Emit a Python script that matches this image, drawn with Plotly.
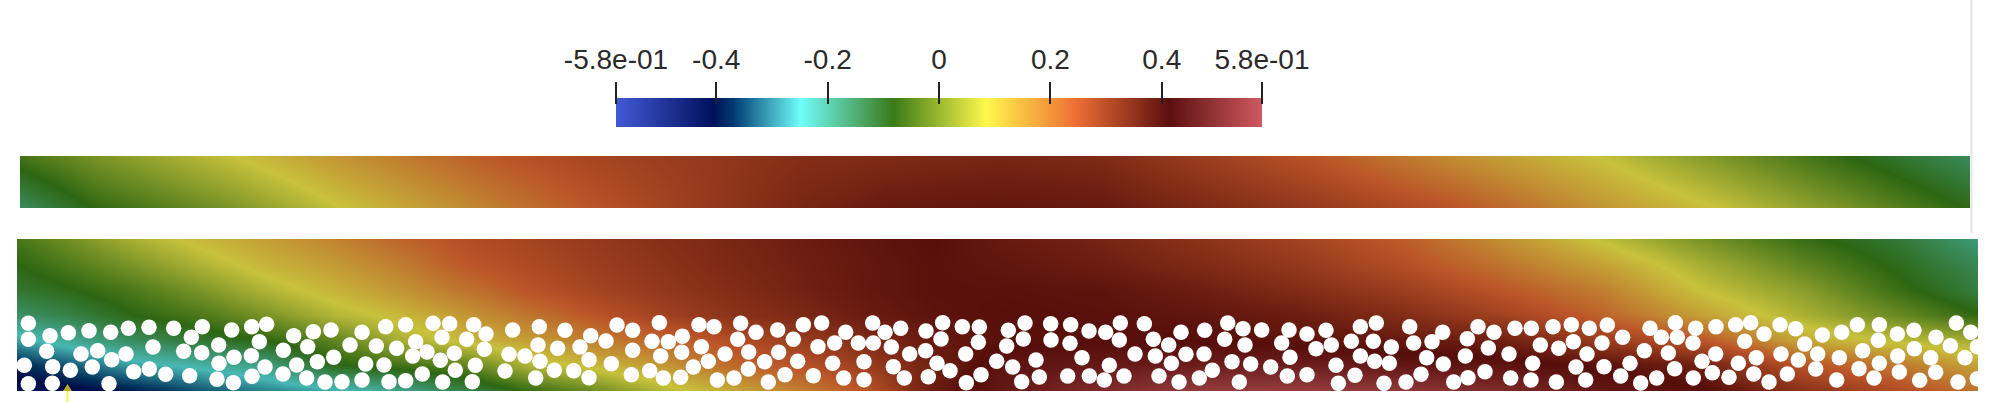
import plotly.graph_objects as go

# ---- colour map stops (value, colour)
stop_values = [-0.58, -0.405, -0.37, -0.25, -0.083, 0.084, 0.245, 0.412, 0.58]
legend_colors = ["#4159d6", "#00105c", "#003b73", "#70fdfa", "#3a7a18", "#fff84a", "#ef6f35", "#5c0f0f", "#cf5a60"]
field_colors = ["#3346a8", "#000c48", "#002e5a", "#48b8b4", "#2d6612", "#c8c23c", "#bb5428", "#560e0a", "#a24549"]

tick_values = [-0.58, -0.4, -0.2, 0, 0.2, 0.4, 0.58]
tick_labels = ["-5.8e-01", "-0.4", "-0.2", "0", "0.2", "0.4", "5.8e-01"]
legend_values = [-0.58, -0.4, -0.2, 0.0, 0.2, 0.4, 0.58]

# ---- upper strip
strip_x = [20, 96, 230, 338, 504, 593, 800, 893, 1000, 1100, 1311, 1456, 1602, 1723, 1843, 1957, 1970]
strip_y = [0, 52]
strip_top = [-0.058, -0.0, 0.081, 0.15, 0.246, 0.28, 0.335, 0.345, 0.355, 0.345, 0.246, 0.16, 0.081, 0.0, -0.079, -0.15, -0.16]
strip_bottom = [-0.16, -0.079, 0.0, 0.081, 0.19, 0.246, 0.355, 0.385, 0.392, 0.385, 0.31, 0.246, 0.15, 0.081, 0.0, -0.079, -0.085]

# ---- lower channel
chan_x = [17, 67, 133, 200, 267, 333, 400, 467, 533, 600, 667, 733, 800, 867, 933, 1000,
          1100, 1200, 1300, 1400, 1500, 1600, 1700, 1800, 1900, 1978]
chan_y = [239, 265, 290, 315, 340, 365, 391]
chan_r0 = [-.055, -.01, .05, .10, .135, .175, .22, .26, .285, .31, .335, .355, .375, .395, .41, .385,
           .36, .325, .285, .235, .16, .078, .0, -.07, -.12, -.19]
chan_r1 = [-.085, -.05, .0, .055, .105, .14, .185, .24, .27, .30, .325, .35, .37, .39, .405, .395,
           .375, .345, .31, .26, .20, .135, .05, -.025, -.095, -.15]
chan_r2 = [-.115, -.09, -.05, .0, .06, .105, .15, .20, .25, .285, .315, .34, .365, .39, .405, .405,
           .40, .375, .34, .30, .245, .185, .085, .02, -.07, -.13]
chan_r3 = [-.17, -.14, -.085, -.05, .0, .06, .10, .15, .20, .25, .29, .325, .35, .38, .40, .41,
           .405, .395, .375, .34, .29, .225, .135, .055, -.02, -.08]
chan_r4 = [-.27, -.22, -.16, -.115, -.08, -.03, .05, .10, .14, .19, .22, .26, .30, .345, .385, .405,
           .41, .41, .40, .385, .37, .30, .245, .125, .07, .04]
chan_r5 = [-.38, -.34, -.27, -.235, -.195, -.09, -.06, -.03, .065, .105, .15, .215, .25, .30, .37, .43,
           .445, .46, .46, .44, .43, .405, .37, .25, .19, .13]
chan_r6 = [-.43, -.42, -.39, -.34, -.30, -.265, -.21, -.14, -.07, -.01, .065, .12, .18, .245, .38, .44,
           .50, .55, .555, .54, .50, .44, .42, .33, .265, .20]

# ---- particles (x, y in channel units of one third of a unit, per stretch of the channel)
particles_a = [(85,310),(85,358),(150,347),(205,338),(267,332),(332,337),(385,325),(447,322),(521,325),(607,320),
 (574,352),(695,330),(755,320),(800,313),(778,365),(881,347),(940,335),(993,330),(1086,337),(1157,320),(1217,314),
 (1299,310),(1349,311),(1421,314),(1458,342),(1326,352),(1247,365),(1400,358),(140,394),(243,402),(293,392),(335,419),
 (378,402),(459,381),(551,394),(605,398),(656,375),(850,391),(923,380),(1050,375),(1129,378),(1190,385),(1238,408),
 (1281,396),(1321,421),(1363,400),(1453,388),(73,436),(158,440),(211,451),(277,441),(401,455),(448,447),(497,463),
 (569,467),(657,430),(702,412),(754,407),(795,441),(890,435),(952,425),(1001,412),(1097,432),(1152,435),(1366,451),
 (1426,436),(85,491),(157,490),(327,491),(651,478),(700,488),(756,469),(849,462),(920,474),(975,486),(1026,485),
 (1086,480),(1167,485),(1217,482),(1267,462),(1328,486),(1417,485)]
particles_b = [(38,330),(118,320),(195,331),(272,347),(351,315),(398,331),(478,308),(597,314),(642,320),(722,310),
 (768,337),(833,330),(910,314),(965,309),(1037,337),(1118,309),(1155,337),(1202,325),(1278,333),(1328,308),(1387,320),
 (1438,321),(114,375),(173,385),(240,381),(318,363),(456,364),(505,365),(547,349),(604,380),(713,358),(880,358),
 (954,380),(1004,369),(1075,369),(1120,369),(1174,381),(1323,357),(1435,367),(27,403),(75,408),(120,424),(267,419),
 (398,391),(482,408),(545,397),(675,402),(746,396),(836,397),(1229,402),(1277,392),(1397,402),(15,453),(163,451),
 (221,452),(334,431),(449,452),(580,441),(625,424),(794,425),(893,424),(998,430),(1092,425),(1180,440),(1311,430),
 (1350,452),(1490,424),(107,474),(267,473),(394,464),(490,474),(542,472),(652,480),(702,474),(745,447),(805,486),
 (855,464),(940,467),(1031,474),(1092,479),(1213,474),(1285,470),(1399,488),(1443,464)]
particles_c = [(25,331),(75,309),(152,311),(212,314),(267,333),(317,337),(361,309),(433,311),(543,337),(614,331),
 (683,309),(729,326),(785,330),(867,330),(921,342),(978,331),(1081,320),(1129,309),(1229,320),(1328,337),(1434,320),
 (1482,337),(20,378),(70,357),(153,360),(210,370),(358,360),(460,358),(506,375),(674,358),(735,375),(845,369),(948,386),
 (994,375),(1054,364),(1120,364),(1174,381),(1241,369),(1296,365),(1402,356),(1465,384),(246,413),(405,402),(466,408),
 (558,403),(612,402),(870,412),(1081,408),(1124,424),(1168,430),(1280,413),(1396,408),(38,441),(108,420),(328,436),
 (514,430),(696,425),(752,432),(812,441),(1008,436),(1330,432),(65,485),(118,471),(203,468),(268,468),(313,480),
 (372,468),(477,468),(537,486),(598,474),(637,451),(718,486),(862,468),(921,464),(1015,490),(1065,466),(1152,490),
 (1218,486),(1263,463),(1361,486),(1404,473),(1455,455)]
particles_d = [(63,325),(112,325),(177,320),(232,314),(286,325),(340,315),(386,352),(468,325),(544,308),(605,325),
 (666,320),(725,314),(770,308),(810,342),(858,314),(905,326),(985,345),(1043,337),(1090,314),(1156,314),(1210,342),
 (1260,331),(1326,352),(1387,309),(1430,337),(139,375),(194,385),(238,365),(324,369),(502,352),(550,352),(597,369),
 (752,364),(932,372),(1153,361),(1369,377),(1450,380),(45,402),(279,402),(451,392),(523,399),(665,402),(787,413),
 (861,402),(971,402),(1036,413),(1106,392),(1211,408),(1261,386),(1310,413),(1413,413),(116,430),(246,441),(330,440),
 (408,430),(542,446),(624,424),(733,430),(913,420),(1156,430),(50,474),(111,480),(187,486),(275,480),(380,468),
 (440,489),(488,474),(598,474),(655,458),(705,472),(779,462),(825,486),(880,462),(965,447),(1028,480),(1095,446),
 (1140,474),(1216,456),(1277,481),(1325,457),(1392,486),(1450,476)]
stretch_offsets = [0, 500, 1000, 1494]

W, H = 1994, 402


def scale(colors):
    lo, hi = stop_values[0], stop_values[-1]
    return [[(v - lo) / (hi - lo), c] for v, c in zip(stop_values, colors)]


def xdom(a, b):
    return [a / W, b / W]


def ydom(top, bottom):
    return [1 - bottom / H, 1 - top / H]


fig = go.Figure()
fig.add_trace(go.Heatmap(x=strip_x, y=strip_y, z=[strip_top, strip_bottom], zmin=-0.58, zmax=0.58,
                         colorscale=scale(field_colors), zsmooth="best", showscale=False,
                         xaxis="x", yaxis="y", hoverinfo="skip"))
fig.add_trace(go.Heatmap(x=chan_x, y=chan_y, z=[chan_r0, chan_r1, chan_r2, chan_r3, chan_r4, chan_r5, chan_r6],
                         zmin=-0.58, zmax=0.58, colorscale=scale(field_colors), zsmooth="best", showscale=False,
                         xaxis="x2", yaxis="y2", hoverinfo="skip"))

px, py = [], []
for off, group in zip(stretch_offsets, [particles_a, particles_b, particles_c, particles_d]):
    for X, Y in group:
        px.append(off + X / 3)
        py.append(220 + Y / 3)
fig.add_trace(go.Scatter(x=px, y=py, mode="markers", xaxis="x2", yaxis="y2", hoverinfo="skip",
                         marker=dict(color="white", size=15.5, line=dict(width=0))))

fig.add_trace(go.Heatmap(x=legend_values, y=[0, 1], z=[legend_values, legend_values], zmin=-0.58, zmax=0.58,
                         colorscale=scale(legend_colors), zsmooth="best", showscale=False,
                         xaxis="x3", yaxis="y3", hoverinfo="skip"))

hidden = dict(visible=False, fixedrange=True)
fig.update_layout(
    width=W, height=H, margin=dict(l=0, r=0, t=0, b=0, pad=0, autoexpand=False), showlegend=False,
    paper_bgcolor="white", plot_bgcolor="white",
    xaxis=dict(domain=xdom(20, 1970), range=[20, 1970], automargin=False, **hidden),
    yaxis=dict(domain=ydom(156, 208), range=[52, 0], anchor="x", automargin=False, **hidden),
    xaxis2=dict(domain=xdom(17, 1978), range=[17, 1978], anchor="y2", automargin=False, **hidden),
    yaxis2=dict(domain=ydom(239, 391), range=[391, 239], anchor="x2", automargin=False, **hidden),
    xaxis3=dict(domain=xdom(616, 1262), range=[-0.58, 0.58], anchor="free", position=1 - 104 / H, side="top",
                tickmode="array", tickvals=tick_values, ticktext=tick_labels, ticks="outside", ticklen=22,
                tickwidth=1.5, tickcolor="#222222", showgrid=False, zeroline=False, showline=False,
                automargin=False, fixedrange=True, ticklabelstandoff=2,
                tickfont=dict(family="Liberation Sans", size=28, color="#2a2a2a")),
    yaxis3=dict(domain=ydom(98, 127), range=[0, 1], anchor="x3", automargin=False, **hidden),
    shapes=[
        dict(type="line", xref="paper", yref="paper", x0=1971.5 / W, x1=1971.5 / W, y0=1, y1=1 - 233 / H,
             line=dict(color="#e4e4e4", width=2)),
        dict(type="line", xref="paper", yref="paper", x0=67.5 / W, x1=67.5 / W, y0=1 - 391 / H, y1=0,
             line=dict(color="#fff04a", width=2)),
        dict(type="path", xref="paper", yref="paper",
             path=f"M {63/W} {1-391/H} L {72/W} {1-391/H} L {67.5/W} {1-384/H} Z",
             fillcolor="#b5a82c", line=dict(width=0)),
    ],
)
fig.write_html("out.html", config={"displayModeBar": False},
               post_script="document.body.style.margin='0';document.body.style.overflow='hidden';")
